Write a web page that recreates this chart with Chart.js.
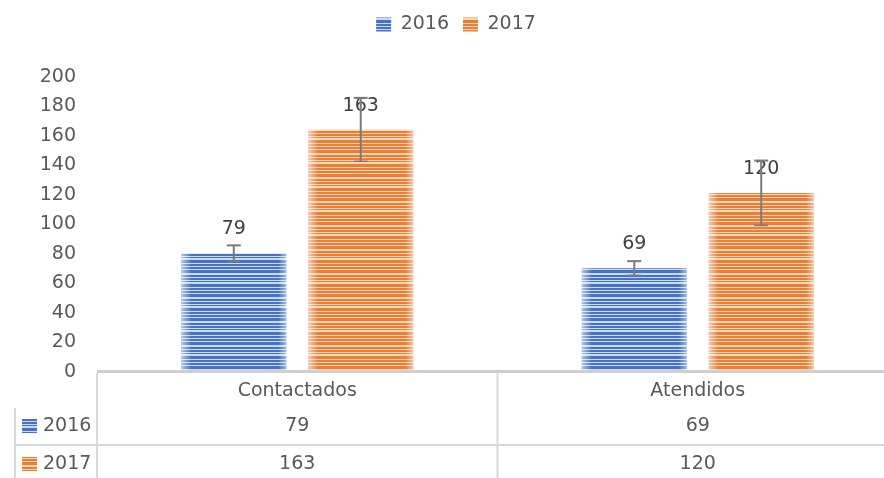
<!DOCTYPE html>
<html><head><meta charset="utf-8">
<script src="https://cdn.jsdelivr.net/npm/chart.js@4.4.1/dist/chart.umd.min.js"></script>
<style>
html,body{margin:0;padding:0;background:#fff;overflow:hidden;width:884px;height:478px}
#wrap{position:relative;width:898px;height:478px}
</style></head>
<body><div id="wrap"><canvas id="c" width="898" height="478"></canvas></div>
<script>
const categories = ['Contactados', 'Atendidos'];
const seriesNames = ['2016', '2017'];
const values2016 = [79, 69];
const values2017 = [163, 120];
const errors2016 = [5.5, 4.8];
const errors2017 = [21.5, 22];
const yTickMin = 0, yTickMax = 200, yTickStep = 20;

const FONT = 'DejaVu Sans';
const TEXT = '#595959';

function makePattern(d, l) {
  const rows = 'DDLDDLDDDLLDDLDDLDLLDDDL';
  const pc = document.createElement('canvas');
  pc.width = 4; pc.height = rows.length;
  const g = pc.getContext('2d');
  for (let i = 0; i < rows.length; i++) {
    g.fillStyle = rows[i] === 'D' ? d : l;
    g.fillRect(0, i, 4, 1);
  }
  return document.getElementById('c').getContext('2d').createPattern(pc, 'repeat');
}
const blueP = makePattern('#4472C4', '#cdd9f0');
const orangeP = makePattern('#ED7D31', '#fad6bd');
const errs = [errors2016, errors2017];

const legendSpacer = {
  id: 'legendSpacer',
  beforeLayout(chart) {
    const lg = chart.legend;
    if (lg && !lg._patched) {
      const orig = lg.fit.bind(lg);
      lg.fit = function () { orig(); this.height += 31; if (this._minSize) this._minSize.height = this.height; };
      lg._patched = true;
    }
  }
};

const decor = {
  id: 'decor',
  afterDatasetsDraw(chart) {
    const ctx = chart.ctx, y = chart.scales.y;
    chart.data.datasets.forEach((ds, di) => {
      chart.getDatasetMeta(di).data.forEach(bar => {
        const l = bar.x - bar.width / 2, r = bar.x + bar.width / 2, top = bar.y, bot = bar.base;
        let g = ctx.createLinearGradient(l, 0, l + 10, 0);
        g.addColorStop(0, 'rgba(255,255,255,0.6)'); g.addColorStop(1, 'rgba(255,255,255,0)');
        ctx.fillStyle = g; ctx.fillRect(l, top, 10, bot - top);
        g = ctx.createLinearGradient(r - 8, 0, r, 0);
        g.addColorStop(0, 'rgba(255,255,255,0)'); g.addColorStop(1, 'rgba(255,255,255,0.5)');
        ctx.fillStyle = g; ctx.fillRect(r - 8, top, 8, bot - top);
      });
    });
    ctx.save();
    ctx.font = '19px "' + FONT + '"';
    ctx.fillStyle = '#404040';
    ctx.textAlign = 'center'; ctx.textBaseline = 'middle';
    chart.data.datasets.forEach((ds, di) => {
      chart.getDatasetMeta(di).data.forEach((bar, i) => {
        ctx.fillText(String(ds.data[i]), bar.x, bar.y - 24);
      });
    });
    ctx.strokeStyle = '#7a7a7a';
    chart.data.datasets.forEach((ds, di) => {
      chart.getDatasetMeta(di).data.forEach((bar, i) => {
        const v = ds.data[i], e = errs[di][i];
        const yt = y.getPixelForValue(v + e), yb = y.getPixelForValue(v - e);
        ctx.lineWidth = 2;
        ctx.beginPath(); ctx.moveTo(bar.x, yt); ctx.lineTo(bar.x, yb); ctx.stroke();
        ctx.beginPath(); ctx.moveTo(bar.x - 7, yt); ctx.lineTo(bar.x + 7, yt); ctx.stroke();
        ctx.lineWidth = 1.5;
        ctx.beginPath(); ctx.moveTo(bar.x - 7, yb); ctx.lineTo(bar.x + 7, yb); ctx.stroke();
      });
    });
    ctx.restore();
  },
  afterDraw(chart) {
    const ctx = chart.ctx, ca = chart.chartArea, x = chart.scales.x;
    const W = chart.width, H = chart.height;
    ctx.save();
    ctx.fillStyle = '#cfcfcf';
    ctx.fillRect(ca.left, ca.bottom, W - ca.left, 3);
    ctx.strokeStyle = '#d9d9d9'; ctx.lineWidth = 2;
    const bounds = [ca.left, (x.getPixelForValue(0) + x.getPixelForValue(1)) / 2, ca.right];
    bounds.forEach(bx => {
      ctx.beginPath(); ctx.moveTo(bx, ca.bottom + 3); ctx.lineTo(bx, H); ctx.stroke();
    });
    const rowSep = 445, rowTop = 408, leftX = 15;
    ctx.beginPath(); ctx.moveTo(leftX, rowTop); ctx.lineTo(leftX, H); ctx.stroke();
    ctx.beginPath(); ctx.moveTo(leftX, rowSep); ctx.lineTo(W, rowSep); ctx.stroke();
    ctx.font = '19px "' + FONT + '"';
    ctx.fillStyle = TEXT; ctx.textAlign = 'center'; ctx.textBaseline = 'middle';
    categories.forEach((c, i) => ctx.fillText(c, x.getPixelForValue(i), 391));
    const rowY = [426, 464];
    const rows = [values2016, values2017];
    const pats = [blueP, orangeP];
    rows.forEach((vals, r) => {
      vals.forEach((v, i) => { ctx.fillStyle = TEXT; ctx.textAlign = 'center'; ctx.fillText(String(v), x.getPixelForValue(i), rowY[r]); });
      ctx.fillStyle = pats[r]; ctx.fillRect(22, rowY[r] - 7, 15, 14);
      ctx.fillStyle = TEXT; ctx.textAlign = 'left';
      ctx.fillText(seriesNames[r], 43, rowY[r]);
    });
    ctx.restore();
  }
};

new Chart(document.getElementById('c'), {
  type: 'bar',
  data: {
    labels: categories,
    datasets: [
      { label: seriesNames[0], data: values2016, backgroundColor: blueP, borderWidth: 0, barPercentage: 0.827, categoryPercentage: 0.634 },
      { label: seriesNames[1], data: values2017, backgroundColor: orangeP, borderWidth: 0, barPercentage: 0.827, categoryPercentage: 0.634 }
    ]
  },
  options: {
    responsive: false,
    animation: false,
    devicePixelRatio: 1,
    layout: { padding: { top: 1, bottom: 108, left: 14, right: 0 } },
    plugins: {
      legend: {
        position: 'top',
        labels: { font: { family: FONT, size: 19 }, color: TEXT, boxWidth: 15, boxHeight: 14, padding: 14 }
      },
      tooltip: { enabled: false }
    },
    scales: {
      x: { display: false, grid: { display: false } },
      y: {
        min: yTickMin, max: yTickMax,
        ticks: { stepSize: yTickStep, font: { family: FONT, size: 19 }, color: TEXT, padding: 21, labelOffset: 2 },
        grid: { display: false, drawTicks: false },
        border: { display: false },
        afterFit(s) { s.width = 83; }
      }
    }
  },
  plugins: [legendSpacer, decor]
});
</script>
</body></html>
